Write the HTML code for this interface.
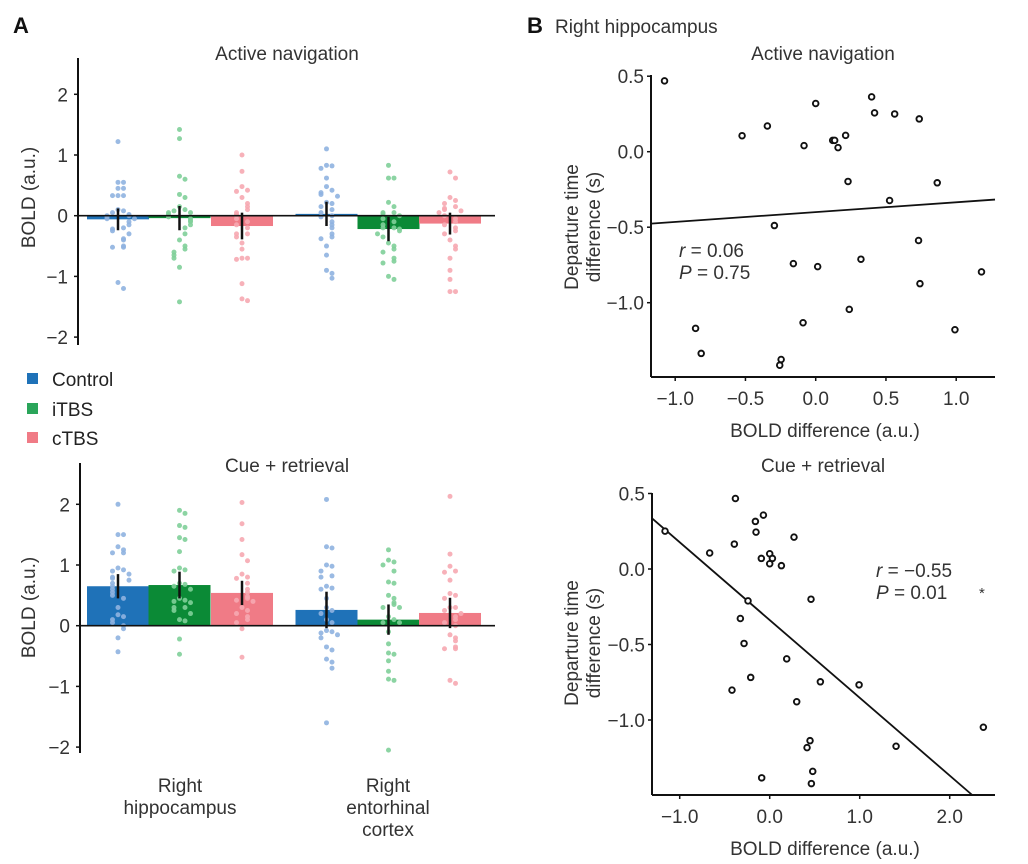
<!DOCTYPE html>
<html><head><meta charset="utf-8"><style>
html,body{margin:0;padding:0;background:#fff;}
svg{display:block;font-family:"Liberation Sans",Arial,sans-serif;}
</style></head><body>
<svg id="fig" width="1028" height="864" viewBox="0 0 1028 864" xmlns="http://www.w3.org/2000/svg">
<text x="13" y="33" font-size="22" font-weight="bold" fill="#111">A</text>
<text x="527" y="33" font-size="22" font-weight="bold" fill="#111">B</text>
<text x="555" y="33" font-size="19" fill="#333">Right hippocampus</text>
<text x="287" y="60" font-size="19" fill="#333" text-anchor="middle">Active navigation</text>
<text x="287" y="472" font-size="19" fill="#333" text-anchor="middle">Cue + retrieval</text>
<text x="823" y="60" font-size="19" fill="#333" text-anchor="middle">Active navigation</text>
<text x="823" y="472" font-size="19" fill="#333" text-anchor="middle">Cue + retrieval</text>
<g>
<rect x="27" y="373" width="11" height="11" fill="#1f72b8"/>
<text x="52" y="386" font-size="19" fill="#222">Control</text>
<rect x="27" y="403" width="11" height="11" fill="#2aa55a"/>
<text x="52" y="416" font-size="19" fill="#222">iTBS</text>
<rect x="27" y="432" width="11" height="11" fill="#f07b86"/>
<text x="52" y="445" font-size="19" fill="#222">cTBS</text>
</g>
<g font-size="19" fill="#333" text-anchor="middle">
<text x="180" y="792">Right<tspan x="180" dy="22">hippocampus</tspan></text>
<text x="388" y="792">Right<tspan x="388" dy="22">entorhinal</tspan><tspan x="388" dy="22">cortex</tspan></text>
</g>
<g id="charts"></g>
</svg>
<script>
// ---- bar chart data ----
const groups = ["Control","iTBS","cTBS"];
const barTicks = [2,1,0,-1,-2];
const navMeans = [-0.06,-0.04,-0.17,0.03,-0.22,-0.13];
const navErr = [0.18,0.2,0.22,0.2,0.2,0.18];
const cueMeans = [0.65,0.67,0.54,0.26,0.10,0.21];
const cueErr = [0.2,0.22,0.2,0.3,0.25,0.25];
const navC1 = [1.22,0.55,0.55,0.45,0.45,0.33,0.33,0.33,0.1,0.05,0.0,0.0,-0.02,-0.05,-0.1,-0.15,-0.2,-0.22,-0.3,-0.38,-0.4,-0.52,-0.52,-0.5,-1.1,-1.2,0.02,-0.05,-0.25,0.08];
const navI1 = [1.42,1.27,0.65,0.6,0.35,0.3,0.15,0.1,0.08,0.05,0.02,0.0,-0.02,-0.05,-0.1,-0.15,-0.2,-0.3,-0.4,-0.5,-0.55,-0.6,-0.65,-0.7,-0.85,-1.42,0.05,-0.08];
const navT1 = [1.0,0.73,0.48,0.42,0.4,0.3,0.2,0.15,0.1,0.05,0.0,-0.05,-0.1,-0.15,-0.3,-0.3,-0.35,-0.45,-0.55,-0.7,-0.7,-0.72,-1.12,-1.37,-1.4,0.02,-0.2];
const navC2 = [1.1,0.83,0.82,0.78,0.62,0.48,0.42,0.38,0.35,0.32,0.22,0.2,0.15,0.05,0.0,-0.02,-0.1,-0.2,-0.3,-0.35,-0.38,-0.5,-0.65,-0.9,-0.95,-1.03,0.1,-0.15];
const navI2 = [0.83,0.62,0.62,0.22,0.15,0.05,0.05,0.0,-0.05,-0.1,-0.15,-0.2,-0.2,-0.22,-0.25,-0.3,-0.45,-0.5,-0.55,-0.6,-0.7,-0.75,-0.78,-1.0,-1.05,0.03,-0.35];
const navT2 = [0.72,0.62,0.3,0.25,0.2,0.15,0.12,0.1,0.05,0.0,-0.05,-0.1,-0.15,-0.2,-0.3,-0.4,-0.5,-0.55,-0.7,-0.9,-1.05,-1.25,-1.25,0.08,-0.25];
const cueC1 = [2.0,1.5,1.5,1.3,1.25,1.2,1.2,0.95,0.92,0.9,0.85,0.8,0.78,0.75,0.7,0.65,0.6,0.55,0.5,0.45,0.3,0.18,0.15,0.1,0.05,0.0,-0.05,-0.2,-0.43];
const cueI1 = [1.9,1.85,1.65,1.62,1.45,1.42,1.22,0.92,0.95,0.9,0.7,0.68,0.65,0.6,0.45,0.42,0.4,0.38,0.3,0.3,0.25,0.2,0.1,0.08,-0.22,-0.47];
const cueT1 = [2.03,1.68,1.42,1.17,1.07,0.85,0.8,0.78,0.7,0.6,0.55,0.48,0.45,0.42,0.4,0.3,0.25,0.2,0.15,0.1,0.05,-0.05,-0.52];
const cueC2 = [2.08,1.3,1.28,1.0,0.98,0.9,0.82,0.8,0.65,0.62,0.6,0.45,0.3,0.25,0.2,0.1,0.05,-0.08,-0.1,-0.12,-0.15,-0.2,-0.35,-0.4,-0.55,-0.6,-0.7,-1.6];
const cueI2 = [1.25,1.08,1.05,1.0,0.9,0.72,0.7,0.5,0.45,0.38,0.35,0.3,0.3,0.15,0.1,0.05,0.05,-0.1,-0.3,-0.45,-0.47,-0.58,-0.75,-0.9,-0.88,-2.05];
const cueT2 = [2.13,1.18,0.98,0.9,0.88,0.75,0.53,0.5,0.45,0.3,0.3,0.25,0.2,0.15,0.1,0.05,0.0,-0.15,-0.2,-0.25,-0.35,-0.38,-0.38,-0.9,-0.95];
// ---- scatter data ----
const navX = [-1.076,-0.524,-0.344,-0.294,-0.083,0,0.121,0.135,0.159,0.213,0.230,0.398,0.419,0.562,0.737,0.865,0.526,0.732,0.322,0.014,-0.159,0.742,1.180,0.239,-0.090,0.991,-0.855,-0.815,-0.246,-0.256];
const navY = [0.469,0.106,0.170,-0.489,0.040,0.319,0.075,0.075,0.027,0.108,-0.197,0.363,0.257,0.250,0.217,-0.206,-0.323,-0.588,-0.712,-0.761,-0.741,-0.874,-0.796,-1.044,-1.133,-1.179,-1.170,-1.336,-1.376,-1.414];
const navFit = [-0.40,0.065];
const cueX = [-1.163,-0.381,-0.070,-0.159,-0.152,-0.393,-0.667,0.270,0,-0.093,0.030,0,0.130,0.459,-0.241,-0.326,-0.285,0.189,-0.211,-0.419,0.563,0.993,0.300,2.374,0.448,0.415,1.404,0.478,-0.089,0.463];
const cueY = [0.251,0.467,0.357,0.315,0.244,0.165,0.106,0.211,0.101,0.070,0.070,0.035,0.022,-0.200,-0.211,-0.328,-0.493,-0.595,-0.718,-0.802,-0.747,-0.767,-0.879,-1.048,-1.137,-1.183,-1.174,-1.340,-1.383,-1.421];
const cueFit = [-0.338,-0.515];
const navXTicks = [-1.0,-0.5,0.0,0.5,1.0];
const cueXTicks = [-1.0,0.0,1.0,2.0];
const sYTicks = [0.5,0.0,-0.5,-1.0];

const NS="http://www.w3.org/2000/svg";
const root=document.getElementById('charts');
function mk(tag,attrs,parent){const e=document.createElementNS(NS,tag);for(const k in attrs)e.setAttribute(k,attrs[k]);(parent||root).appendChild(e);return e;}
function fmt(v,d){const s=v.toFixed(d);return s.replace('-','\u2212');}

const barFill=["#1f72b8","#0b8a36","#f07b86"];
const dotFill=["#8fb2e0","#7fcf99","#f6a9b1"];
const centers=[118,179.5,242,326.5,388.5,450];

function barPanel(name,zeroY,axisX,top,bottom,means,errs,dots){
  const g=mk('g',{});
  
  
  const unit=60.7;
  const y=v=>zeroY-v*unit;
  const ax=mk('line',{x1:axisX,y1:top,x2:axisX,y2:bottom,stroke:'#111','stroke-width':2},g);
  
  
  barTicks.forEach(t=>{
    const tk=mk('line',{x1:axisX-4,y1:y(t),x2:axisX,y2:y(t),stroke:'#111','stroke-width':1.5},g);
    
    
    const tl=mk('text',{x:axisX-10,y:y(t)+7,'font-size':19,'text-anchor':'end',fill:'#333'},g);
    
    
    tl.textContent=fmt(t,0);
  });
  const yl=mk('text',{x:0,y:0,'font-size':19,'text-anchor':'middle',fill:'#333',transform:`translate(35,${y(0.3)}) rotate(-90)`},g);
  
  
  yl.textContent='BOLD (a.u.)';
  means.forEach((m,i)=>{
    const cx=centers[i];
    const r=mk('rect',{x:cx-31,y:Math.min(y(m),zeroY),width:62,height:Math.abs(y(m)-zeroY),fill:barFill[i%3]},g);
    
    
  });
  dots.forEach((arr,i)=>{
    const cx=centers[i];
    const sorted=arr.slice().sort((a,b)=>b-a);
    const placed=[];
    sorted.forEach(v=>{
      const near=placed.filter(p=>Math.abs(p-v)<0.1).length;
      placed.push(v);
      const off=near===0?0:(near%2===1?1:-1)*Math.ceil(near/2)*5.5;
      const c=mk('circle',{cx:cx+off,cy:y(v),r:2.5,fill:dotFill[i%3],opacity:0.9},g);
      
      
    });
  });
  const zl=mk('line',{x1:axisX,y1:zeroY,x2:495,y2:zeroY,stroke:'#111','stroke-width':1.6},g);
  
  
  means.forEach((m,i)=>{
    const e=mk('line',{x1:centers[i],y1:y(m+errs[i]),x2:centers[i],y2:y(m-errs[i]),stroke:'#111','stroke-width':2.5},g);
    
    
  });
}
barPanel('bar-chart-active-navigation',215.7,78,58,345,navMeans,navErr,[navC1,navI1,navT1,navC2,navI2,navT2]);
barPanel('bar-chart-cue-retrieval',625.7,80,463,753,cueMeans,cueErr,[cueC1,cueI1,cueT1,cueC2,cueI2,cueT2]);

function scatter(name,o){
  const g=mk('g',{});
  
  
  const sx=v=>o.x0+v*o.ux, sy=v=>o.y0-v*o.uy;
  const ya=mk('line',{x1:o.left,y1:o.top,x2:o.left,y2:o.bottom,stroke:'#111','stroke-width':2},g);
  
  
  const xa=mk('line',{x1:o.left,y1:o.bottom,x2:995,y2:o.bottom,stroke:'#111','stroke-width':2},g);
  
  
  sYTicks.forEach(t=>{
    const tk=mk('line',{x1:o.left-4,y1:sy(t),x2:o.left,y2:sy(t),stroke:'#111','stroke-width':1.5},g);
    
    
    const tl=mk('text',{x:o.left-7,y:sy(t)+7,'font-size':19,'text-anchor':'end',fill:'#333'},g);
    
    
    tl.textContent=fmt(t,1);
  });
  o.xt.forEach(t=>{
    const tk=mk('line',{x1:sx(t),y1:o.bottom,x2:sx(t),y2:o.bottom+4,stroke:'#111','stroke-width':1.5},g);
    
    
    const tl=mk('text',{x:sx(t),y:o.bottom+28,'font-size':19,'text-anchor':'middle',fill:'#333'},g);
    
    
    tl.textContent=fmt(t,1);
  });
  const xt=mk('text',{x:825,y:o.bottom+60,'font-size':19,'text-anchor':'middle',fill:'#333'},g);
  
  
  xt.textContent='BOLD difference (a.u.)';
  const yt=mk('text',{x:0,y:0,'font-size':19,'text-anchor':'middle',fill:'#333',transform:`translate(578,${o.ymid}) rotate(-90)`},g);
  
  
  yt.textContent='Departure time';
  const yt2=mk('text',{x:0,y:0,'font-size':19,'text-anchor':'middle',fill:'#333',transform:`translate(600,${o.ymid}) rotate(-90)`},g);
  
  
  yt2.textContent='difference (s)';
  const xl=(o.left-o.x0)/o.ux, xr=(995-o.x0)/o.ux, ymin=(o.y0-o.bottom)/o.uy;
  let x2=xr, y2=o.fit[0]+o.fit[1]*xr;
  if(y2<ymin){x2=(ymin-o.fit[0])/o.fit[1];y2=ymin;}
  const fl=mk('line',{x1:sx(xl),y1:sy(o.fit[0]+o.fit[1]*xl),x2:sx(x2),y2:sy(y2),stroke:'#111','stroke-width':1.8},g);
  
  
  o.xs.forEach((v,i)=>{
    const c=mk('circle',{cx:sx(v),cy:sy(o.ys[i]),r:2.8,fill:'#fff',stroke:'#111','stroke-width':1.9},g);
    
    
  });
  const r=mk('text',{x:o.sx,y:o.sy,'font-size':19,fill:'#333'},g);
  
  
  r.innerHTML='<tspan font-style="italic">r</tspan> = '+o.r;
  const p=mk('text',{x:o.sx,y:o.sy+22,'font-size':19,fill:'#333'},g);
  
  
  p.innerHTML='<tspan font-style="italic">P</tspan> = '+o.p;
}
scatter('scatter-active-navigation',{x0:815.7,ux:140.5,y0:151.7,uy:151,left:651,top:75,bottom:377,xt:navXTicks,xs:navX,ys:navY,fit:navFit,ymid:227,sx:679,sy:257,r:'0.06',p:'0.75'});
scatter('scatter-cue-retrieval',{x0:769.7,ux:90,y0:569,uy:151,left:652,top:493,bottom:795,xt:cueXTicks,xs:cueX,ys:cueY,fit:cueFit,ymid:643,sx:876,sy:577,r:'\u22120.55',p:'0.01'});
const star=mk('text',{x:979,y:598,'font-size':15,fill:'#333'});


star.textContent='*';
</script>
</body></html>
